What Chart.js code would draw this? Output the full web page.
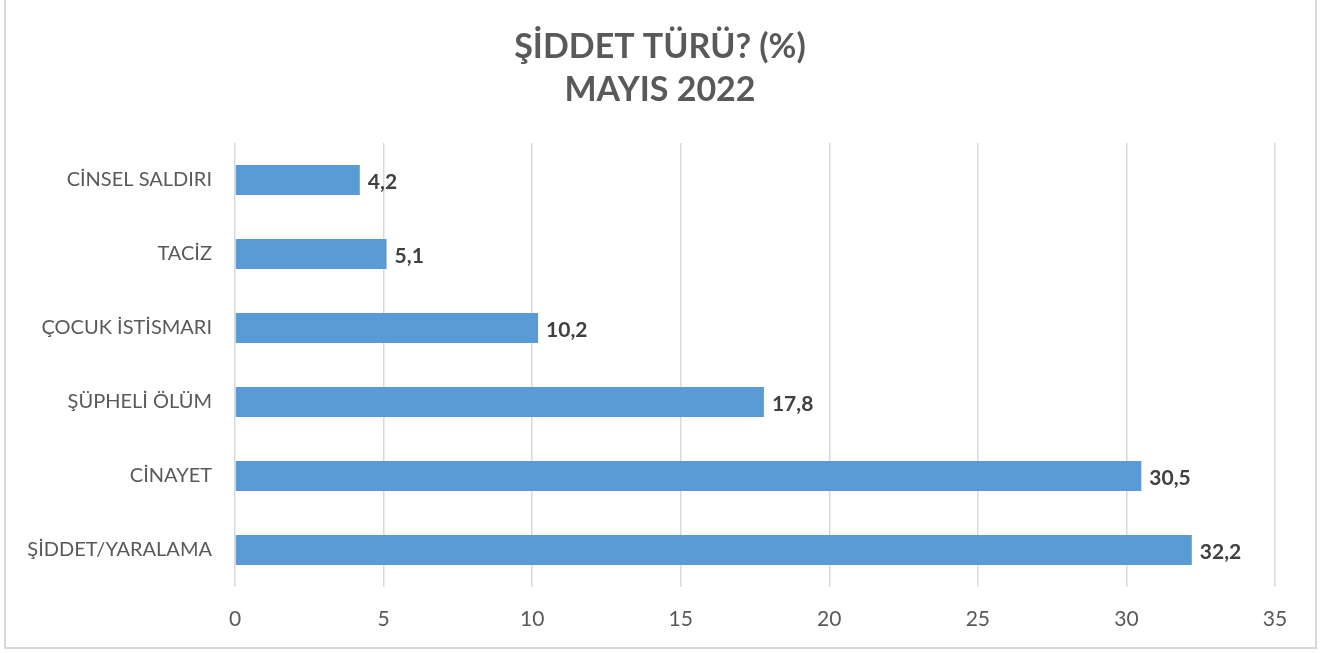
<!DOCTYPE html>
<html>
<head>
<meta charset="utf-8">
<style>
  html, body { margin: 0; padding: 0; background: #ffffff; }
  #wrap { position: relative; width: 1339px; height: 653px; }
</style>
<script src="https://cdn.jsdelivr.net/npm/chart.js@4/dist/chart.umd.min.js"></script>
</head>
<body>
<div id="wrap"><canvas id="c" width="1339" height="653"></canvas></div>
<script>
const categories = ["CİNSEL SALDIRI", "TACİZ", "ÇOCUK İSTİSMARI", "ŞÜPHELİ ÖLÜM", "CİNAYET", "ŞİDDET/YARALAMA"];
const values = [4.2, 5.1, 10.2, 17.8, 30.5, 32.2];
const xTicks = [0, 5, 10, 15, 20, 25, 30, 35];
const titleLines = ["ŞİDDET TÜRÜ? (%)", "MAYIS 2022"];

const FONT = "Lato, 'Open Sans', sans-serif";

const borderPlugin = {
  id: 'outerBorder',
  beforeDraw(chart) {
    const ctx = chart.ctx;
    ctx.save();
    ctx.fillStyle = '#ffffff';
    ctx.fillRect(0, 0, chart.width, chart.height);
    ctx.strokeStyle = '#D9D9D9';
    ctx.lineWidth = 2;
    ctx.strokeRect(5, -2, 1311, 650);
    ctx.restore();
  }
};

const titlePlugin = {
  id: 'centeredTitle',
  afterDraw(chart) {
    const ctx = chart.ctx;
    ctx.save();
    ctx.font = "bold 34px " + FONT;
    ctx.fillStyle = '#595959';
    ctx.textAlign = 'center';
    ctx.textBaseline = 'middle';
    const cx = 660;
    titleLines.forEach((t, i) => ctx.fillText(t, cx, 47 + i * 43));
    ctx.restore();
  }
};

const valueLabels = {
  id: 'valueLabels',
  afterDatasetsDraw(chart) {
    const ctx = chart.ctx;
    const meta = chart.getDatasetMeta(0);
    ctx.save();
    ctx.font = "bold 21px " + FONT;
    ctx.fillStyle = '#404040';
    ctx.textAlign = 'left';
    ctx.textBaseline = 'middle';
    meta.data.forEach((bar, i) => {
      const txt = values[i].toFixed(1).replace('.', ',');
      ctx.fillText(txt, bar.x + 8, bar.y + 2);
    });
    ctx.restore();
  }
};

new Chart(document.getElementById('c'), {
  type: 'bar',
  data: {
    labels: categories,
    datasets: [{
      data: values,
      backgroundColor: '#5B9BD5',
      borderWidth: 0,
      barPercentage: 0.405,
      categoryPercentage: 1.0
    }]
  },
  options: {
    indexAxis: 'y',
    responsive: false,
    animation: false,
    layout: { padding: { left: 0, right: 64, top: 143, bottom: 16 } },
    plugins: {
      legend: { display: false },
      tooltip: { enabled: false },
      title: { display: false }
    },
    scales: {
      x: {
        min: 0,
        max: 35,
        afterBuildTicks(scale) { scale.ticks = xTicks.map(v => ({ value: v })); },
        afterFit(scale) { scale.height = 50; },
        grid: { color: '#D9D9D9', lineWidth: 1.5, drawTicks: false },
        border: { display: false },
        ticks: { color: '#595959', font: { family: FONT, size: 21 }, padding: 20 }
      },
      y: {
        afterFit(scale) { scale.width = 235; },
        grid: { display: false, drawTicks: false },
        border: { display: false },
        ticks: { color: '#595959', font: { family: FONT, size: 20 }, padding: 23 }
      }
    }
  },
  plugins: [borderPlugin, valueLabels, titlePlugin]
});
</script>
</body>
</html>
